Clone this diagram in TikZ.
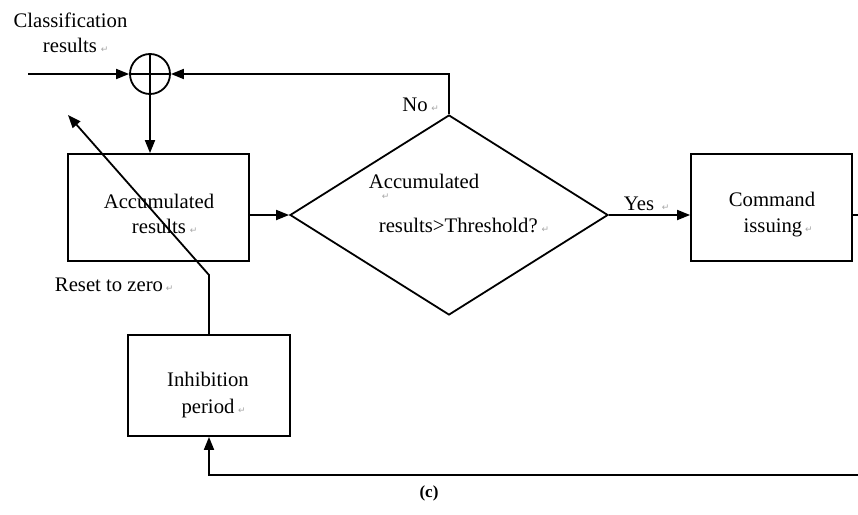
\documentclass[tikz,border=0pt]{standalone}
\usepackage{fontspec}
\setmainfont{Liberation Serif}
\newfontfamily\djv{DejaVu Sans}
\usetikzlibrary{arrows.meta,shapes.geometric}
\begin{document}
\begin{tikzpicture}[x=1pt,y=-1pt,
  line width=1.8pt,
  every node/.style={font=\fontsize{20.7}{26}\selectfont},
  box/.style={draw, rectangle, inner sep=0pt, line width=1.8pt},
  txt/.style={inner sep=0pt, anchor=base},
  pmark/.style={inner sep=0pt, anchor=base west, text=black!35, font=\djv\fontsize{9}{9}\selectfont, xshift=2pt},
  arr/.style={-{Triangle[length=13pt,width=10pt]}},
]
\useasboundingbox (0,0) rectangle (858,514);
\clip (0,0) rectangle (858,514);

% shapes
\node[box, minimum width=181pt, minimum height=107pt] (acc) at (158.5,207.5) {};
\node[box, minimum width=161pt, minimum height=107pt] (cmd) at (771.5,207.5) {};
\node[box, minimum width=162pt, minimum height=101pt] (inh) at (209,385.5) {};
\node[draw, diamond, minimum width=318pt, minimum height=200pt, inner sep=0pt] (dia) at (449,215) {};
\node[draw, circle, minimum size=40pt, inner sep=0pt] (sum) at (150,74) {};
\draw (sum.north) -- (sum.south) (sum.west) -- (sum.east);

% coordinates
\coordinate (inp) at (28,74);
\coordinate (r1) at (868,215);
\coordinate (r2) at (868,475);
\coordinate (bend) at (209,275);
\coordinate (tip) at (68,115);

% connectors
\draw[arr] (inp) -- (sum.west);
\draw[arr] (dia.north) -- (dia.north |- sum.east) -- (sum.east);
\draw[arr] (sum.south) -- (sum.south |- acc.north);
\draw[arr] (acc.east |- dia.west) -- (dia.west);
\draw[arr] (dia.east) -- (dia.east -| cmd.west);
\draw[arr] (cmd.east |- dia.east) -- (r1) -- (r2) -- (r2 -| inh.south) -- (inh.south);
\draw[arr] (inh.north) -- (bend) -- (tip);

% texts
\node[txt] (cl1) at (70.5,27) {Classification};
\node[txt] (cl2) at (70,52) {results};
\node[pmark] (pm1) at (cl2.base east) {↵};

\node[txt] (ac1) at (159,208) {Accumulated};
\node[txt] (ac2) at (159,233) {results};
\node[pmark] (pm2) at (ac2.base east) {↵};

\node[txt, anchor=base west] (d1) at (368,188) {Accumulated};
\node[pmark] (pm3) at (379,199) {↵};
\node[txt, anchor=base west] (d2) at (378,232) {results>Threshold?};
\node[pmark] (pm4) at (d2.base east) {↵};

\node[txt] (no) at (415,111) {No};
\node[pmark] (pm5) at (no.base east) {↵};
\node[txt] (yes) at (639,210) {Yes};
\node[pmark, xshift=4pt] (pm6) at (yes.base east) {↵};

\node[txt] (cm1) at (772,206) {Command};
\node[txt] (cm2) at (773,232) {issuing};
\node[pmark, xshift=-1pt] (pm7) at (cm2.base east) {↵};

\node[txt] (rz) at (109,291) {Reset to zero};
\node[pmark, xshift=-1pt] (pm8) at (rz.base east) {↵};

\node[txt] (in1) at (208,386) {Inhibition};
\node[txt] (in2) at (208,413) {period};
\node[pmark] (pm9) at (in2.base east) {↵};

\node[txt, font=\fontsize{17}{19}\selectfont\bfseries] (cap) at (429,497) {(c)};
\end{tikzpicture}
\end{document}
